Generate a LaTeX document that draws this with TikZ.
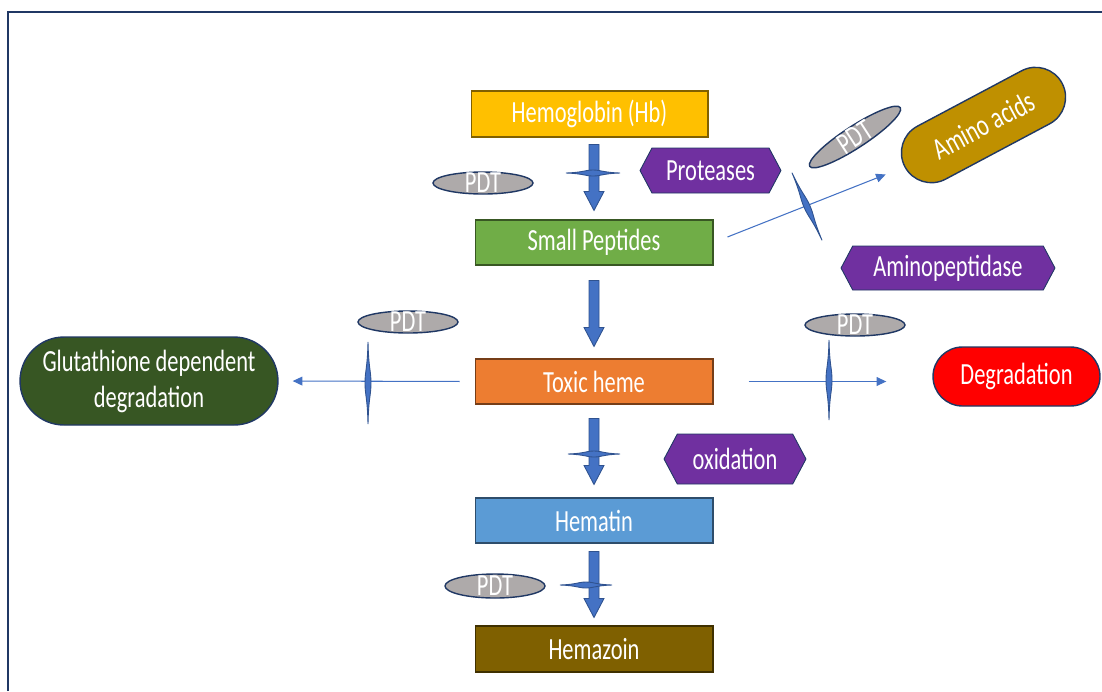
\documentclass[tikz,border=0pt]{standalone}
\usepackage{fontspec}
\setmainfont{Carlito}[FakeStretch=0.73]
\usepackage{tikz}
\usetikzlibrary{shapes.geometric,shapes.symbols,arrows.meta,calc}

\definecolor{hbyellow}{HTML}{FFC000}
\definecolor{peptidegreen}{HTML}{70AD47}
\definecolor{hemeorange}{HTML}{ED7D31}
\definecolor{hematinblue}{HTML}{5B9BD5}
\definecolor{hemazoinbrown}{HTML}{7F6000}
\definecolor{enzpurple}{HTML}{7030A0}
\definecolor{pdtgray}{HTML}{AEAAAA}
\definecolor{glutgreen}{HTML}{375623}
\definecolor{degred}{HTML}{FF0000}
\definecolor{aminogold}{HTML}{BF9000}
\definecolor{arrowblue}{HTML}{4472C4}
\definecolor{arrowline}{HTML}{2F528F}
\definecolor{navyline}{HTML}{203864}

% dicker Pfeil zwischen zwei Kaesten
\newcommand{\blockarrow}[4]{%
  \filldraw[blockarrowstyle] ($(#2.north |- #1.south)+(-5,#3)$) -- ($(#2.north)+(-5,-#4-19)$) -- ($(#2.north)+(-10,-#4-19)$)
    -- ($(#2.north)+(0,-#4)$) -- ($(#2.north)+(10,-#4-19)$) -- ($(#2.north)+(5,-#4-19)$) -- ($(#2.north |- #1.south)+(5,#3)$) -- cycle;}
% Linse: Mitte, Winkel, halbe Laenge, halbe Breite
\newcommand{\lens}[4]{%
  \filldraw[lensstyle, shift={#1}, rotate=#2] (-#3,0) .. controls (-0.35*#3,0.2*#4) and (-0.3*#3,#4) .. (0,#4)
    .. controls (0.3*#3,#4) and (0.35*#3,0.2*#4) .. (#3,0) .. controls (0.35*#3,-0.2*#4) and (0.3*#3,-#4) .. (0,-#4)
    .. controls (-0.3*#3,-#4) and (-0.35*#3,-0.2*#4) .. (-#3,0) -- cycle;}

\begin{document}
\begin{tikzpicture}[x=0.02cm, y=-0.02cm,
    every node/.style={font=\fontsize{17.5}{20.5}\selectfont, text=white},
    box/.style={rectangle, fill=#1, draw=#1!50!black, line width=0.6pt, inner sep=0pt, minimum width=4.76cm, minimum height=0.9cm},
    pdt/.style={ellipse, fill=pdtgray, draw=navyline, line width=0.8pt, inner xsep=0pt, inner ysep=-7pt, minimum width=2cm, minimum height=0.44cm},
    enzyme/.style={signal, signal to=east and west, signal pointer angle=124, fill=enzpurple, draw=navyline, line width=0.5pt, inner sep=0pt},
    endbox/.style={rectangle, fill=#1, draw=navyline, line width=0.8pt, inner sep=0pt, align=center},
    thinarrow/.style={draw=arrowblue, line width=0.6pt, -{Triangle[length=5.5pt, width=5pt]}},
    blockarrowstyle/.style={fill=arrowblue, draw=arrowline, line width=0.5pt},
    lensstyle/.style={fill=arrowblue, draw=arrowline, line width=0.5pt}]
  \useasboundingbox (0,0) rectangle (1102,691);
  %Rahmen
  \draw[navyline, line width=1.2pt] (8,691) -- (8,12) -- (1102,12);

  %Hauptkette
  \node[box=hbyellow, minimum width=4.74cm, minimum height=0.92cm] (hb) at (589.5,114) {Hemoglobin (Hb)};
  \node[box=peptidegreen] (sp) at (594,242.5) {Small Peptides};
  \node[box=hemeorange] (th) at (594,381.5) {Toxic heme};
  \node[box=hematinblue] (hematin) at (594,520.5) {Hematin};
  \node[box=hemazoinbrown, minimum height=0.92cm] (hemazoin) at (594,649) {Hemazoin};

  %Enzyme
  \node[enzyme, minimum width=2.82cm, minimum height=0.9cm] (prot) at (710.5,170.5) {Proteases};
  \node[enzyme, minimum width=4.28cm, minimum height=0.88cm] (aminop) at (948,268) {Aminopeptidase};
  \node[enzyme, minimum width=2.84cm, minimum height=1cm] (oxid) at (735,459) {oxidation};

  %Endprodukte
  \node[endbox=aminogold, rotate=28, minimum width=3.56cm, minimum height=1.2cm, rounded corners=0.6cm] (aa) at (983.5,125) {Amino acids};
  \node[endbox=glutgreen, minimum width=5.16cm, minimum height=1.76cm, rounded corners=0.88cm] (glut) at (149,381) {Glutathione dependent\\degradation};
  \node[endbox=degred, minimum width=3.34cm, minimum height=1.18cm, rounded corners=0.59cm] (deg) at (1016.5,376.5) {Degradation};

  %PDT
  \node[pdt] (pdt1) at (483,183) {PDT};
  \node[pdt, rotate=33, minimum width=2.16cm] (pdt2) at (855,137) {PDT};
  \node[pdt] (pdt3) at (408,322) {PDT};
  \node[pdt] (pdt4) at (855,325) {PDT};
  \node[pdt, minimum height=0.48cm] (pdt5) at (495,586) {PDT};

  %Pfeile
  \blockarrow{hb}{sp}{7}{9}
  \blockarrow{sp}{th}{15}{12}
  \blockarrow{th}{hematin}{14}{13}
  \blockarrow{hematin}{hemazoin}{8}{8}
  \draw[thinarrow, shorten <=0.3cm, shorten >=0.4cm] (sp.east) -- (aa.west);
  \draw[thinarrow, shorten <=0.3cm, shorten >=0.28cm] (th.west) -- (glut.east);
  \draw[thinarrow, shorten <=0.7cm, shorten >=0.92cm] (th.east) -- (th.east -| deg.west);

  %Hemmung durch PDT
  \lens{(593,173)}{0}{27}{3}
  \lens{(594,454)}{0}{26}{3}
  \lens{(586,585)}{0}{26}{3}
  \lens{(368,383)}{90}{41}{3}
  \lens{(829,380)}{90}{40}{3}
  \lens{(807,206.5)}{-66}{37}{3}
\end{tikzpicture}
\end{document}
